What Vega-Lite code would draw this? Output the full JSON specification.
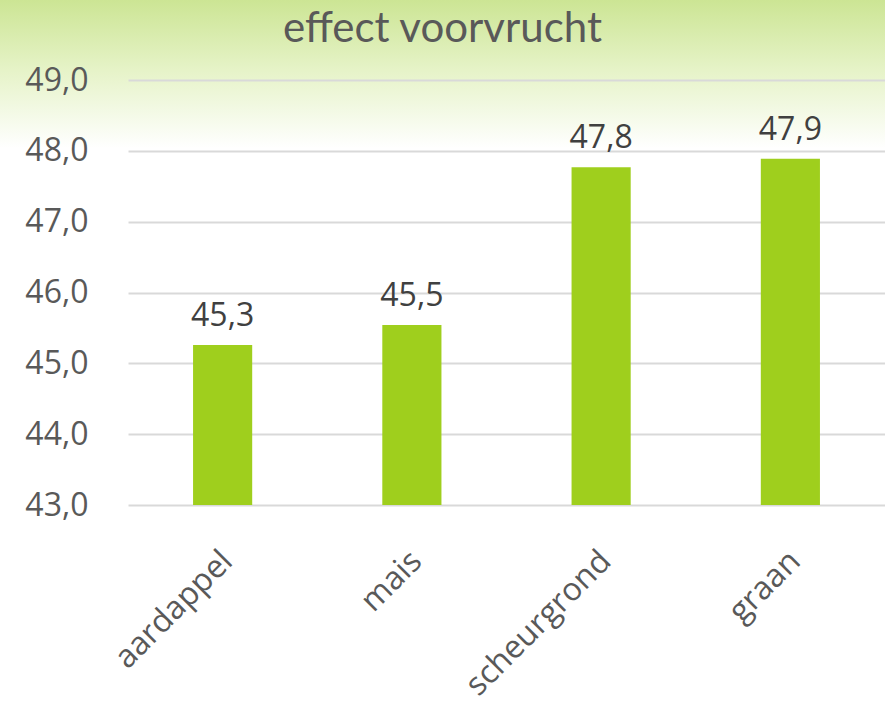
{
  "$schema": "https://vega.github.io/schema/vega-lite/v6.json",
  "width": 885,
  "height": 706,
  "autosize": {"type": "none"},
  "padding": 0,
  "background": "#ffffff",
  "title": {
    "text": "effect voorvrucht",
    "anchor": "middle",
    "frame": "group",
    "font": "Lato",
    "fontSize": 42,
    "fontWeight": "normal",
    "color": "#595959",
    "offset": -84,
    "baseline": "alphabetic"
  },
  "data": {
    "values": [
      {"voorvrucht": "aardappel", "waarde": 45.26},
      {"voorvrucht": "mais", "waarde": 45.54},
      {"voorvrucht": "scheurgrond", "waarde": 47.77},
      {"voorvrucht": "graan", "waarde": 47.89}
    ]
  },
  "encoding": {
    "x": {
      "field": "voorvrucht",
      "type": "nominal",
      "sort": null,
      "scale": {"range": [128, 885], "paddingInner": 0.6875, "paddingOuter": 0.34375},
      "axis": {
        "title": null,
        "orient": "bottom",
        "offset": -201,
        "labelAngle": -45,
        "labelFont": "Open Sans",
        "labelFontSize": 32,
        "labelColor": "#595959",
        "labelPadding": 40,
        "labelOffset": -6,
        "labelLimit": 0,
        "labelOverlap": false,
        "domain": false,
        "ticks": false,
        "grid": false
      }
    },
    "y": {
      "field": "waarde",
      "type": "quantitative",
      "scale": {"domain": [43, 49], "range": [505, 80], "zero": false, "nice": false},
      "axis": {
        "title": null,
        "offset": -128,
        "values": [43, 44, 45, 46, 47, 48, 49],
        "format": ".1f",
        "labelFont": "Open Sans",
        "labelFontSize": 32,
        "labelColor": "#595959",
        "labelPadding": 40,
        "domain": false,
        "ticks": false,
        "grid": true,
        "gridColor": "#d9d9d9",
        "gridWidth": 2
      }
    }
  },
  "layer": [
    {
      "mark": {"type": "bar", "color": "#9FCF1D"},
      "encoding": {"y2": {"datum": 43}}
    },
    {
      "mark": {"type": "text", "font": "Open Sans", "fontSize": 32, "color": "#404040", "baseline": "alphabetic", "dy": -19},
      "encoding": {"text": {"field": "waarde", "type": "quantitative", "format": ".1f"}}
    }
  ],
  "config": {
    "locale": {"number": {"decimal": ",", "thousands": ".", "grouping": [3], "currency": ["€", ""]}},
    "view": {
      "stroke": null,
      "fill": {
        "gradient": "linear",
        "x1": 0, "y1": 0, "x2": 0, "y2": 1,
        "stops": [
          {"offset": 0, "color": "#cce594"},
          {"offset": 0.1, "color": "#e6f3c8"},
          {"offset": 0.21, "color": "#ffffff"},
          {"offset": 1, "color": "#ffffff"}
        ]
      }
    }
  }
}
